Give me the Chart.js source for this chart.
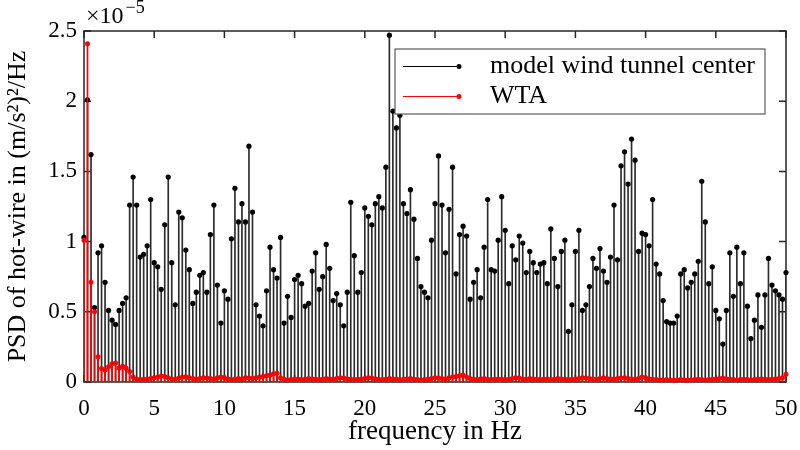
<!DOCTYPE html>
<html lang="en">
<head>
  <meta charset="UTF-8">
  <title>PSD hot-wire</title>
  <script src="https://cdn.jsdelivr.net/npm/chart.js"></script>
  <style>
    html, body { margin: 0; padding: 0; background: #fff; }
    canvas { display: block; }
  </style>
</head>
<body>

<canvas id="psdChart" width="800" height="450"></canvas>

<script>
  // frequency bins, 0.25 Hz resolution up to 50 Hz
  const freqStep = 0.25;
  const freq = Array.from({ length: 201 }, (_, i) => i * freqStep);

  // PSD values in units of 1e-5 (m/s^2)^2/Hz
  const psdCenter = [
    1.03, 2.01, 1.62, 0.53, 0.92, 0.97, 0.71, 0.51, 0.44, 0.41,
    0.51, 0.56, 0.60, 1.26, 1.46, 1.26, 0.89, 0.91, 0.97, 1.30,
    0.85, 0.82, 0.66, 1.12, 1.46, 0.85, 0.55, 1.21, 1.17, 0.94,
    0.80, 0.56, 0.64, 0.76, 0.78, 0.64, 1.05, 1.26, 0.69, 0.42,
    0.65, 0.59, 1.02, 1.38, 1.14, 1.27, 1.14, 1.68, 1.21, 0.55,
    0.47, 0.40, 0.65, 0.96, 0.80, 0.74, 1.03, 0.42, 0.61, 0.46,
    0.73, 0.76, 0.70, 0.54, 0.56, 0.79, 0.92, 0.66, 0.75, 0.98,
    0.81, 0.58, 0.63, 0.55, 0.40, 0.64, 1.28, 0.90, 0.64, 0.78,
    1.24, 1.18, 1.12, 1.27, 1.32, 1.24, 1.53, 2.47, 1.93, 1.81,
    1.90, 1.27, 1.20, 1.37, 1.16, 0.88, 0.68, 0.64, 0.60, 1.01,
    1.27, 1.61, 1.26, 0.92, 1.23, 1.53, 0.77, 1.05, 1.11, 1.04,
    0.59, 0.71, 0.80, 0.60, 0.96, 1.30, 0.80, 0.79, 1.01, 1.32,
    1.08, 0.70, 0.97, 0.87, 1.04, 0.99, 0.78, 0.93, 0.85, 0.78,
    0.84, 0.85, 0.70, 1.09, 0.88, 0.68, 0.93, 1.01, 0.36, 0.55,
    0.93, 1.08, 0.51, 0.55, 0.68, 0.88, 0.81, 0.95, 0.79, 0.71,
    0.89, 1.26, 0.87, 1.54, 1.64, 1.41, 1.73, 1.58, 0.93, 1.06,
    1.05, 0.97, 1.30, 0.84, 0.77, 0.58, 0.43, 0.42, 0.42, 0.47,
    0.77, 0.80, 0.67, 0.71, 0.77, 0.86, 1.43, 1.14, 0.70, 0.82,
    0.51, 0.45, 0.27, 0.51, 0.92, 0.61, 0.96, 0.70, 0.92, 0.54,
    0.31, 0.44, 0.62, 0.39, 0.62, 0.88, 0.69, 0.65, 0.62, 0.59, 0.78
  ];

  const psdWta = [
    1.01, 2.41, 0.71, 0.50, 0.18, 0.096, 0.085, 0.108, 0.13, 0.136,
    0.10, 0.112, 0.098, 0.075, 0.035, 0.02, 0.018, 0.02, 0.022, 0.025,
    0.03, 0.035, 0.042, 0.04, 0.03, 0.022, 0.02, 0.028, 0.035, 0.038,
    0.03, 0.025, 0.02, 0.025, 0.03, 0.028, 0.025, 0.022, 0.03, 0.035,
    0.03, 0.022, 0.018, 0.02, 0.025, 0.022, 0.03, 0.028, 0.025, 0.03,
    0.035, 0.04, 0.045, 0.05, 0.058, 0.062, 0.03, 0.02, 0.015, 0.018,
    0.02, 0.022, 0.018, 0.02, 0.025, 0.022, 0.02, 0.018, 0.02, 0.025,
    0.022, 0.02, 0.025, 0.03, 0.028, 0.022, 0.02, 0.018, 0.02, 0.022,
    0.025, 0.03, 0.028, 0.022, 0.02, 0.018, 0.02, 0.025, 0.022, 0.02,
    0.018, 0.02, 0.022, 0.025, 0.02, 0.018, 0.015, 0.018, 0.02, 0.025,
    0.03, 0.028, 0.025, 0.022, 0.03, 0.035, 0.04, 0.045, 0.05, 0.035,
    0.025, 0.02, 0.018, 0.022, 0.025, 0.02, 0.018, 0.02, 0.022, 0.02,
    0.018, 0.02, 0.025, 0.03, 0.028, 0.022, 0.02, 0.025, 0.022, 0.02,
    0.018, 0.02, 0.022, 0.018, 0.02, 0.025, 0.022, 0.02, 0.018, 0.02,
    0.022, 0.025, 0.03, 0.028, 0.025, 0.022, 0.02, 0.025, 0.028, 0.025,
    0.022, 0.02, 0.025, 0.028, 0.03, 0.025, 0.022, 0.02, 0.025, 0.035,
    0.03, 0.022, 0.02, 0.018, 0.015, 0.015, 0.018, 0.015, 0.012, 0.015,
    0.018, 0.015, 0.012, 0.015, 0.018, 0.02, 0.018, 0.015, 0.018, 0.02,
    0.022, 0.025, 0.028, 0.022, 0.02, 0.018, 0.015, 0.018, 0.02, 0.018,
    0.015, 0.018, 0.02, 0.022, 0.02, 0.018, 0.02, 0.022, 0.025, 0.03, 0.055
  ];

  const seriesNames = ['model wind tunnel center', 'WTA'];
  const seriesColors = ['#000000', '#ff0000'];
  const xTickStep = 5;
  const yTickStep = 0.5;

  const serif = '"Liberation Serif", "DejaVu Serif", serif';
  const axisColor = '#262626';

  const toPoints = vals => freq.map((f, i) => ({ x: f, y: vals[i] }));

  // box around the axes with inward ticks on all four sides,
  // drawn under the data so markers sit on top of the axis lines
  const boxAxes = {
    id: 'boxAxes',
    beforeDatasetsDraw(chart) {
      const { ctx, chartArea: a, scales: { x, y } } = chart;
      const tl = 7;
      ctx.save();
      ctx.strokeStyle = axisColor;
      ctx.lineWidth = 1.5;
      ctx.strokeRect(a.left, a.top, a.right - a.left, a.bottom - a.top);
      ctx.beginPath();
      x.ticks.forEach(t => {
        const px = x.getPixelForValue(t.value);
        ctx.moveTo(px, a.bottom); ctx.lineTo(px, a.bottom - tl);
        ctx.moveTo(px, a.top); ctx.lineTo(px, a.top + tl);
      });
      y.ticks.forEach(t => {
        const py = y.getPixelForValue(t.value);
        ctx.moveTo(a.left, py); ctx.lineTo(a.left + tl, py);
        ctx.moveTo(a.right, py); ctx.lineTo(a.right - tl, py);
      });
      ctx.stroke();

      // exponent above the y axis
      ctx.fillStyle = '#000';
      ctx.textBaseline = 'middle';
      ctx.textAlign = 'left';
      ctx.font = '24px ' + serif;
      ctx.fillText('\u00d710', a.left + 2, 17);
      const w = ctx.measureText('\u00d710').width;
      ctx.font = '18px ' + serif;
      ctx.fillText('\u22125', a.left + 2 + w + 2, 8);
      ctx.restore();
    }
  };

  // stem-style legend: line with a marker at its end
  const stemLegend = {
    id: 'stemLegend',
    afterDraw(chart) {
      const { ctx } = chart;
      const box = { x: 395, y: 49, w: 370, h: 65 };
      ctx.save();
      ctx.fillStyle = '#fff';
      ctx.fillRect(box.x, box.y, box.w, box.h);
      ctx.strokeStyle = '#5a5a5a';
      ctx.lineWidth = 1.2;
      ctx.strokeRect(box.x, box.y, box.w, box.h);
      seriesNames.forEach((name, i) => {
        const ly = box.y + 17.5 + i * 30;
        ctx.strokeStyle = seriesColors[i];
        ctx.lineWidth = 1;
        ctx.beginPath();
        ctx.moveTo(box.x + 8, ly);
        ctx.lineTo(box.x + 64, ly);
        ctx.stroke();
        ctx.fillStyle = seriesColors[i];
        ctx.beginPath();
        ctx.arc(box.x + 64, ly, 2.5, 0, Math.PI * 2);
        ctx.fill();
        ctx.fillStyle = '#000';
        ctx.font = '26px ' + serif;
        ctx.textBaseline = 'middle';
        ctx.fillText(name, box.x + 95, ly);
      });
      ctx.restore();
    }
  };

  new Chart(document.getElementById('psdChart'), {
    type: 'scatter',
    data: {
      datasets: [
        {
          type: 'scatter',
          data: toPoints(psdWta),
          pointRadius: 2.5,
          pointBackgroundColor: seriesColors[1],
          pointBorderWidth: 0,
          clip: false,
          order: 0
        },
        {
          type: 'bar',
          data: toPoints(psdWta),
          backgroundColor: seriesColors[1],
          barThickness: 1,
          grouped: false,
          order: 1
        },
        {
          type: 'scatter',
          data: toPoints(psdCenter),
          pointRadius: 2.6,
          pointBackgroundColor: seriesColors[0],
          pointBorderWidth: 0,
          clip: false,
          order: 2
        },
        {
          type: 'bar',
          data: toPoints(psdCenter),
          backgroundColor: '#2b2b2b',
          barThickness: 1,
          grouped: false,
          order: 3
        }
      ]
    },
    options: {
      responsive: false,
      animation: false,
      events: [],
      layout: { padding: { left: 0, right: 14, top: 31, bottom: 0 } },
      plugins: {
        legend: { display: false },
        tooltip: { enabled: false }
      },
      scales: {
        x: {
          type: 'linear',
          min: 0,
          max: 50,
          offset: false,
          grid: { display: false, drawTicks: true, tickLength: 13 },
          border: { display: false },
          ticks: {
            stepSize: xTickStep,
            padding: 0,
            maxRotation: 0,
            color: '#000',
            font: { family: serif, size: 23 }
          },
          title: {
            display: true,
            text: 'frequency in Hz',
            color: '#000',
            font: { family: serif, size: 27 },
            padding: { top: 0, bottom: 2 }
          },
          afterFit: s => {
            s.height = 68;
            s.paddingLeft = 0;
            s.paddingRight = 0;
          }
        },
        y: {
          type: 'linear',
          min: 0,
          max: 2.5,
          grid: { display: false, drawTicks: false },
          border: { display: false },
          ticks: {
            stepSize: yTickStep,
            padding: 7,
            color: '#000',
            font: { family: serif, size: 23 },
            callback: v => String(+v.toFixed(2))
          },
          title: {
            display: true,
            text: 'PSD of hot-wire in (m/s\u00b2)\u00b2/Hz',
            color: '#000',
            font: { family: serif, size: 26 },
            padding: { top: 3, bottom: 0 }
          },
          afterFit: s => {
            s.width = 84;
            s.paddingTop = 0;
            s.paddingBottom = 0;
          }
        }
      }
    },
    plugins: [boxAxes, stemLegend]
  });
</script>

</body>
</html>
